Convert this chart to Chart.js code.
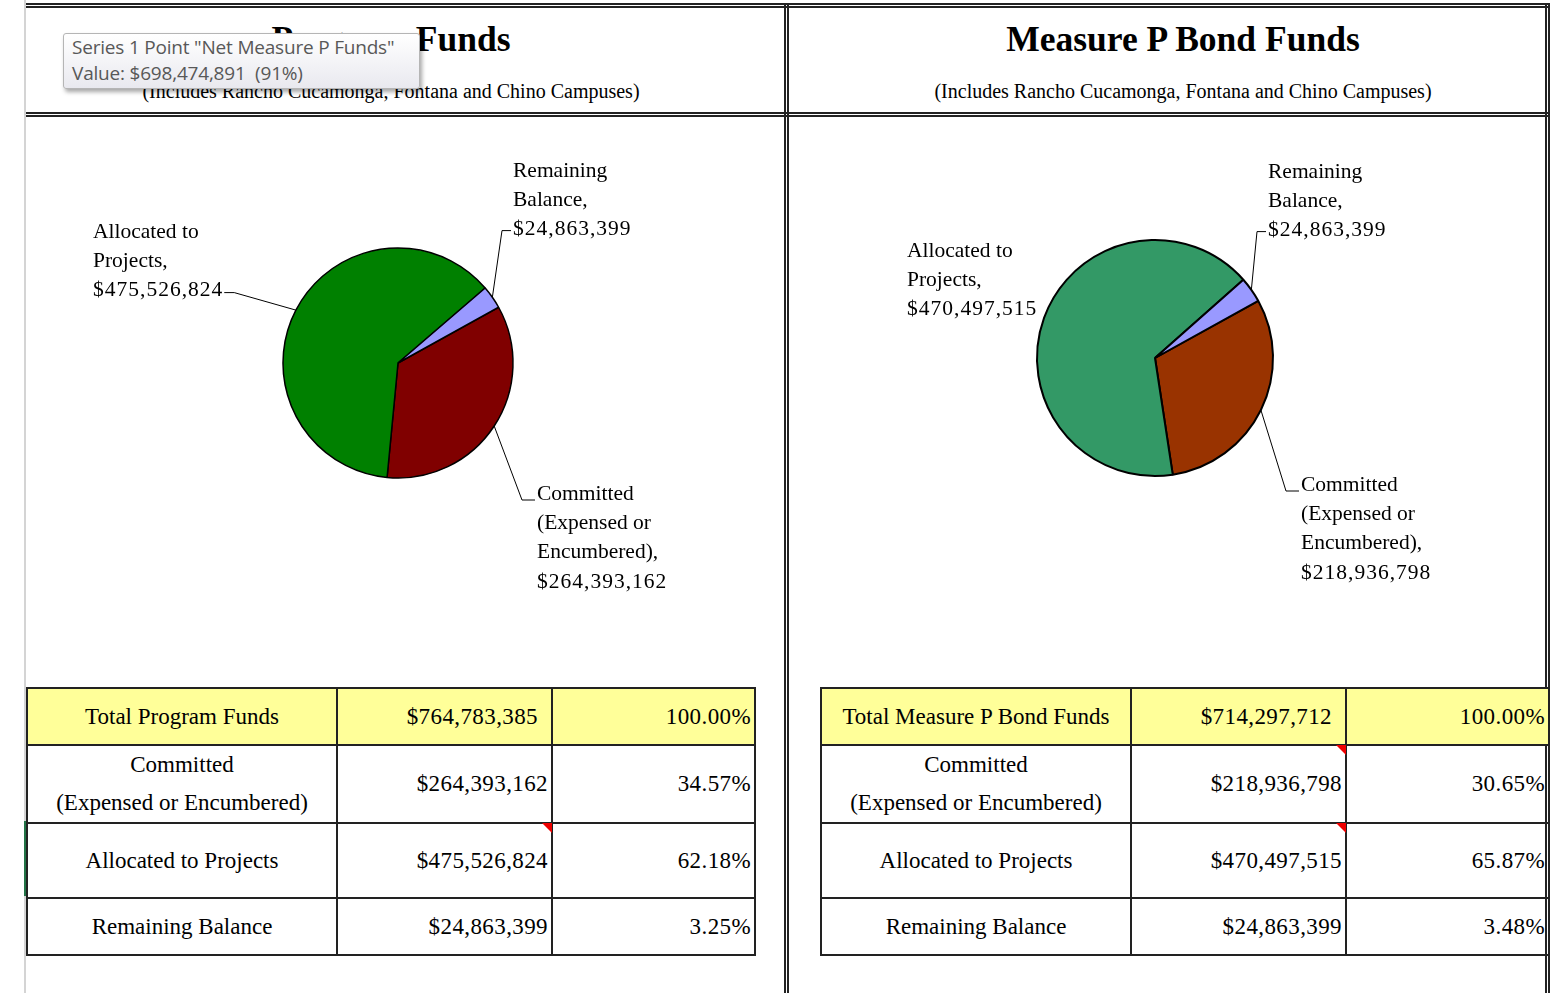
<!DOCTYPE html>
<html>
<head>
<meta charset="utf-8">
<script src="https://cdn.jsdelivr.net/npm/chart.js"></script>
<style>
  html, body { margin: 0; padding: 0; background: #fff; }
  body { width: 1564px; height: 993px; position: relative; overflow: hidden; font-family: "Liberation Serif", serif; color: #000; }
  .abs { position: absolute; }
  .hline { position: absolute; height: 0; border-top: 5px double #222; }
  .vline { position: absolute; width: 0; border-left: 5px double #222; }
  .title { position: absolute; font-weight: bold; font-size: 35.5px; white-space: nowrap; transform: translateX(-50%); top: 18px; }
  .subtitle { position: absolute; font-size: 20px; white-space: nowrap; transform: translateX(-50%); top: 80px; }
  table.funds { position: absolute; border-collapse: collapse; table-layout: fixed; font-size: 23px; }
  table.funds td { border: 2px solid #222; padding: 0; position: relative; }
  table.funds td.name { text-align: center; line-height: 38px; }
  table.funds td.num { text-align: right; padding-right: 3px; letter-spacing: 0.4px; }
  table.funds tr.total td { background: #ffff99; }
  table.funds tr.total td.amt { padding-right: 13px; }
  .flag { position: absolute; right: -1px; top: -1px; width: 0; height: 0; border-top: 10px solid #e00; border-left: 10px solid transparent; }
  .tip { position: absolute; left: 63px; top: 33px; width: 357px; height: 56px; box-sizing: border-box;
         border: 1px solid #b5b5b5; border-radius: 3px; background: linear-gradient(#ffffff, #e9e9ef);
         box-shadow: 2px 3px 4px rgba(0,0,0,0.35); font-family: "Open Sans", "Noto Sans", sans-serif;
         font-size: 19px; color: #585858; padding: 0 0 0 8px; line-height: 26px; white-space: nowrap; letter-spacing: -0.2px; }
</style>
</head>
<body>

<!-- sheet gridline and selected cell edge -->
<div class="abs" style="left:24px; top:0; width:2px; height:993px; background:#d4d4d4;"></div>
<div class="abs" style="left:24px; top:821px; width:2px; height:75px; background:#217346;"></div>

<!-- frame -->
<div class="hline" style="left:26px; top:3px; width:1524px;"></div>
<div class="hline" style="left:26px; top:112px; width:1524px;"></div>
<div class="vline" style="left:784px; top:3px; height:990px;"></div>
<div class="vline" style="left:1545px; top:3px; height:990px;"></div>

<div class="title" style="left:391px;">Program Funds</div>
<div class="subtitle" style="left:391px;">(Includes Rancho Cucamonga, Fontana and Chino Campuses)</div>
<div class="title" style="left:1183px;">Measure P Bond Funds</div>
<div class="subtitle" style="left:1183px;">(Includes Rancho Cucamonga, Fontana and Chino Campuses)</div>

<canvas id="program-chart" class="abs" width="755" height="568" style="left:28px; top:118px;"></canvas>
<canvas id="bond-chart" class="abs" width="752" height="568" style="left:792px; top:118px;"></canvas>

<table id="program-table" class="funds" style="left:26px; top:687px;"></table>
<table id="bond-table" class="funds" style="left:820px; top:687px;"></table>

<div class="tip">Series 1 Point "Net Measure P Funds"<br>Value: $698,474,891&nbsp;&nbsp;(91%)</div>

<script>
// categories in slice order (clockwise from the first slice)
const categories = ["Committed (Expensed or Encumbered)", "Allocated to Projects", "Remaining Balance"];
const pieLabelLines = [
    ["Committed", "(Expensed or", "Encumbered),"],
    ["Allocated to", "Projects,"],
    ["Remaining", "Balance,"]
];
const programValues = [264393162, 475526824, 24863399];
const bondValues = [218936798, 470497515, 24863399];

const programColors = ["#800000", "#008000", "#9999ff"];
const bondColors = ["#993300", "#339966", "#9999ff"];

// table row order
const tableOrder = [0, 1, 2];
const tableNames = ["Committed<br>(Expensed or Encumbered)", "Allocated to Projects", "Remaining Balance"];

const money = (v) => "$" + v.toLocaleString("en-US");
const pct = (v, t) => (v / t * 100).toFixed(2) + "%";

const FONT = '21.5px "Liberation Serif", serif';
const LINE_H = 29.3;

// label layout: offset of text block from the pie centre; side tells where the leader joins
const programLabelPos = [
    { dx: 139, dy: 131, side: "right", attach: 0, leader: true },
    { dx: -305, dy: -131, side: "left", attach: 2, leader: true },
    { dx: 115, dy: -192, side: "right", attach: 2, leader: true }
];
const bondLabelPos = [
    { dx: 146, dy: 127, side: "right", attach: 0, leader: true },
    { dx: -248, dy: -107, side: "left", attach: 2, leader: false },
    { dx: 113, dy: -186, side: "right", attach: 2, leader: true }
];

const pieLabels = {
    id: "pieLabels",
    afterDatasetsDraw(chart, args, opts) {
        const ctx = chart.ctx;
        const meta = chart.getDatasetMeta(0);
        const values = chart.data.datasets[0].data;
        ctx.save();
        ctx.font = FONT;
        ctx.fillStyle = "#000";
        ctx.strokeStyle = "#000";
        ctx.lineWidth = 1;
        ctx.textBaseline = "middle";
        ctx.textAlign = "left";
        meta.data.forEach((arc, i) => {
            const p = arc.getProps(["x", "y", "startAngle", "endAngle", "outerRadius"], true);
            const pos = opts.positions[i];
            const lines = pieLabelLines[i].concat([money(values[i])]);
            const tx = p.x + pos.dx;
            const ty = p.y + pos.dy;
            lines.forEach((t, k) => {
                // the amounts are set a little wider, like the sheet font
                ctx.letterSpacing = k === lines.length - 1 ? "1px" : "0px";
                ctx.fillText(t, tx, ty + k * LINE_H);
            });

            if (!pos.leader) return;
            const mid = (p.startAngle + p.endAngle) / 2;
            const ax = p.x + Math.cos(mid) * p.outerRadius;
            const ay = p.y + Math.sin(mid) * p.outerRadius;
            let ex, ey, hx;
            if (pos.side === "left") {
                ctx.letterSpacing = pos.attach === lines.length - 1 ? "1px" : "0px";
                const w = ctx.measureText(lines[pos.attach]).width;
                ey = ty + pos.attach * LINE_H + 2;
                hx = tx + w + 1;
                ex = hx + 10;
            } else {
                ey = ty + pos.attach * LINE_H + (pos.attach === 0 ? 6 : 1);
                hx = tx - 2;
                ex = hx - (pos.attach === 0 ? 13 : 9);
            }
            ctx.beginPath();
            ctx.moveTo(hx, ey);
            ctx.lineTo(ex, ey);
            ctx.lineTo(ax, ay);
            ctx.stroke();
        });
        ctx.restore();
    }
};

function makePie(id, values, colors, positions, center, radius, borderWidth) {
    const canvas = document.getElementById(id);
    const half = 200;
    const padding = {
        left: center.x - half,
        right: canvas.width - (center.x + half),
        top: center.y - half,
        bottom: canvas.height - (center.y + half)
    };
    return new Chart(canvas.getContext("2d"), {
        type: "pie",
        data: {
            labels: categories,
            datasets: [{
                data: values,
                backgroundColor: colors,
                borderColor: "#000",
                borderWidth: borderWidth,
                radius: radius
            }]
        },
        options: {
            responsive: false,
            animation: false,
            rotation: 61,
            layout: { padding: padding },
            plugins: {
                legend: { display: false },
                tooltip: { enabled: false },
                pieLabels: { positions: positions }
            }
        },
        plugins: [pieLabels]
    });
}

function fillTable(id, title, values) {
    const total = values.reduce((a, b) => a + b, 0);
    const widths = [310, 215, 203];
    const heights = [57, 77, 75, 57];
    let html = "<colgroup>" + widths.map((w) => `<col style="width:${w}px">`).join("") + "</colgroup>";
    html += `<tr class="total" style="height:${heights[0]}px"><td class="name">${title}</td><td class="num amt">${money(total)}</td><td class="num">100.00%</td></tr>`;
    tableOrder.forEach((i, r) => {
        html += `<tr style="height:${heights[r + 1]}px"><td class="name">${tableNames[i]}</td>` +
            `<td class="num">${money(values[i])}</td><td class="num">${pct(values[i], total)}</td></tr>`;
    });
    const table = document.getElementById(id);
    table.innerHTML = html;
    table.style.width = widths.reduce((a, b) => a + b, 0) + "px";
    return table;
}

makePie("program-chart", programValues, programColors, programLabelPos, { x: 370, y: 245 }, 115, 1.5);
makePie("bond-chart", bondValues, bondColors, bondLabelPos, { x: 363, y: 240 }, 118, 2);

const t1 = fillTable("program-table", "Total Program Funds", programValues);
const t2 = fillTable("bond-table", "Total Measure P Bond Funds", bondValues);

// comment markers on a few amount cells
function flag(table, row) {
    const cell = table.rows[row].cells[1];
    const f = document.createElement("div");
    f.className = "flag";
    cell.appendChild(f);
}
flag(t1, 2);
flag(t2, 1);
flag(t2, 2);
</script>
</body>
</html>
